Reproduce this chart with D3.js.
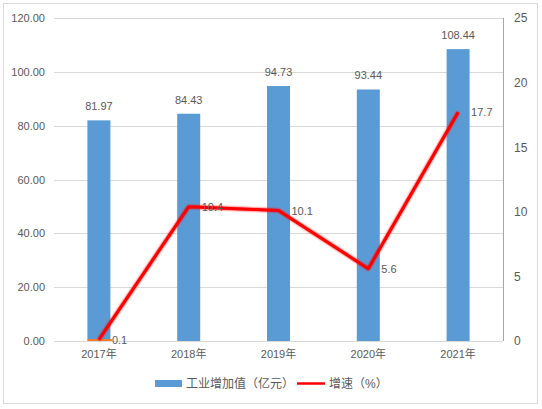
<!doctype html>
<html lang="zh">
<head>
<meta charset="UTF-8"/>
<title>工业增加值</title>
<script src="https://cdnjs.cloudflare.com/ajax/libs/d3/7.8.5/d3.min.js"></script>
<style>
  body { margin: 0; background: #fff; }
  text { font-family: "Liberation Sans", "Noto Sans CJK SC", sans-serif; fill: #595959; }
</style>
</head>
<body>
<svg id="chart" width="542" height="409"></svg>
<script>
// data
var years = ["2017年", "2018年", "2019年", "2020年", "2021年"];
var valueAdded = [81.97, 84.43, 94.73, 93.44, 108.44];
var growth = [0.1, 10.4, 10.1, 5.6, 17.7];
var leftTicks = [0, 20, 40, 60, 80, 100, 120];
var rightTicks = [0, 5, 10, 15, 20, 25];

var svg = d3.select("#chart");
var margin = {top: 18, right: 39, bottom: 68, left: 54},
    width = 542 - margin.left - margin.right,
    height = 409 - margin.top - margin.bottom;

var defs = svg.append("defs");
var blur = defs.append("filter").attr("id", "glow")
    .attr("x", "-10%").attr("y", "-10%").attr("width", "120%").attr("height", "120%");
blur.append("feGaussianBlur").attr("stdDeviation", 1.2).attr("result", "b");
var merge = blur.append("feMerge");
merge.append("feMergeNode").attr("in", "b");
merge.append("feMergeNode").attr("in", "SourceGraphic");

// outer border
svg.append("rect").attr("x", 3.5).attr("y", 3.5).attr("width", 534).attr("height", 400)
  .attr("fill", "none").attr("stroke", "#d9d9d9");

var g = svg.append("g").attr("transform", "translate(" + margin.left + "," + margin.top + ")");

var x = d3.scaleBand().domain(years).range([0, width]);
var yL = d3.scaleLinear().domain([0, 120]).range([height, 0]);
var yR = d3.scaleLinear().domain([0, 25]).range([height, 0]);

// gridlines
g.selectAll(".grid").data(leftTicks).enter().append("line")
  .attr("x1", 0).attr("x2", width)
  .attr("y1", d => Math.round(yL(d)) + 0.5).attr("y2", d => Math.round(yL(d)) + 0.5)
  .attr("stroke", "#d9d9d9");

// left axis
var axL = g.append("g").call(d3.axisLeft(yL).tickValues(leftTicks).tickFormat(d3.format(".2f")).tickSize(0).tickPadding(9));
axL.select(".domain").remove();
axL.selectAll("text").attr("font-size", 11).style("fill", "#595959");

// right axis
var axR = g.append("g").attr("transform", "translate(" + width + ",0)")
  .call(d3.axisRight(yR).tickValues(rightTicks).tickSize(0).tickPadding(11));
axR.select(".domain").attr("stroke", "#a6a6a6").attr("d", "M0.5,0V" + height);
axR.selectAll("text").attr("font-size", 12).style("fill", "#595959");

// x axis
var axX = g.append("g").attr("transform", "translate(0," + height + ")")
  .call(d3.axisBottom(x).tickSize(0).tickPadding(9));
axX.select(".domain").remove();
axX.selectAll("text").attr("font-size", 11).style("fill", "#595959");

// bars
var bw = 23;
g.selectAll(".bar").data(valueAdded).enter().append("rect")
  .attr("x", (d, i) => x(years[i]) + x.bandwidth() / 2 - bw / 2)
  .attr("y", d => yL(d)).attr("width", bw).attr("height", d => height - yL(d))
  .attr("fill", "#5b9bd5");

g.selectAll(".barlab").data(valueAdded).enter().append("text")
  .attr("x", (d, i) => x(years[i]) + x.bandwidth() / 2)
  .attr("y", d => yL(d) - 10).attr("text-anchor", "middle")
  .attr("font-size", 11).text(d => d.toFixed(2));

// small orange mark at 2017 base
g.append("line")
  .attr("x1", x(years[0]) + x.bandwidth() / 2 - 11).attr("x2", x(years[0]) + x.bandwidth() / 2 + 13)
  .attr("y1", height - 1).attr("y2", height - 1)
  .attr("stroke", "#ed7d31").attr("stroke-width", 2);

// growth line
var line = d3.line().x((d, i) => x(years[i]) + x.bandwidth() / 2).y(d => yR(d));
g.append("path").datum(growth).attr("d", line)
  .attr("fill", "none").attr("stroke", "#ff0000").attr("stroke-width", 3)
  .attr("stroke-linejoin", "round").attr("filter", "url(#glow)");

g.selectAll(".linelab").data(growth).enter().append("text")
  .attr("x", (d, i) => x(years[i]) + x.bandwidth() / 2 + 13)
  .attr("y", d => yR(d) + 4)
  .attr("font-size", 11).text(d => d);

// legend
var lg = svg.append("g").attr("transform", "translate(155,383)");
lg.append("rect").attr("x", 0).attr("y", -3).attr("width", 27).attr("height", 7).attr("fill", "#5b9bd5");
lg.append("text").attr("x", 31).attr("y", 5).attr("font-size", 12).text("工业增加值（亿元）");
lg.append("line").attr("x1", 142).attr("x2", 170).attr("y1", 0.5).attr("y2", 0.5)
  .attr("stroke", "#ff0000").attr("stroke-width", 2.5);
lg.append("text").attr("x", 174).attr("y", 5).attr("font-size", 12).text("增速（%）");
</script>
</body>
</html>
